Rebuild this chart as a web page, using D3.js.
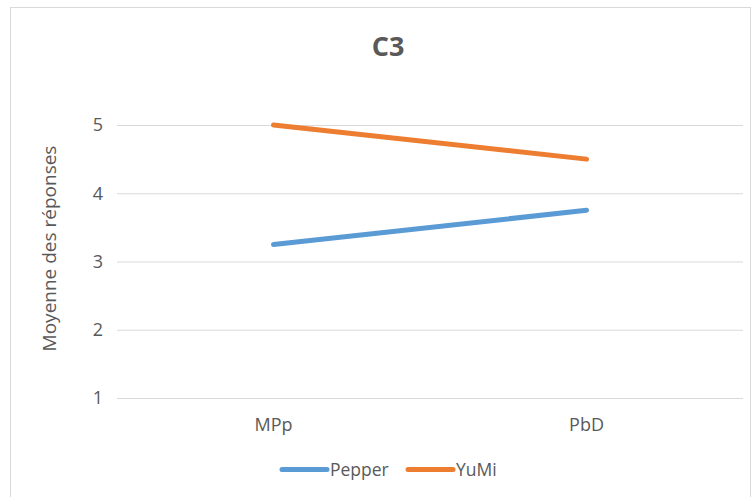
<!DOCTYPE html>
<html>
<head>
<meta charset="utf-8">
<script src="https://cdn.jsdelivr.net/npm/d3@7"></script>
<style>
  html, body { margin: 0; padding: 0; background: #fff; }
  svg { display: block; }
  text { font-family: "Open Sans", "Liberation Sans", sans-serif; fill: #595959; }
</style>
</head>
<body>
<svg id="chart" width="753" height="497"></svg>
<script>
const categories = ["MPp", "PbD"];
const seriesNames = ["Pepper", "YuMi"];
const pepperValues = [3.25, 3.75];
const yumiValues = [5.0, 4.5];
const yTicks = [1, 2, 3, 4, 5];
const colors = ["#5B9BD5", "#ED7D31"];
const title = "C3";
const yLabel = "Moyenne des réponses";

const series = [
  { name: seriesNames[0], values: pepperValues, color: colors[0] },
  { name: seriesNames[1], values: yumiValues, color: colors[1] }
];

const svg = d3.select("#chart");

svg.append("rect")
  .attr("x", 10.5).attr("y", 7.5)
  .attr("width", 740).attr("height", 520)
  .attr("fill", "none").attr("stroke", "#d9d9d9").attr("stroke-width", 1);

const plotLeft = 117, plotRight = 743, plotTop = 125, plotBottom = 398;

const x = d3.scaleBand().domain(categories).range([plotLeft, plotRight]).padding(0);
const y = d3.scaleLinear().domain([1, 5]).range([plotBottom, plotTop]);

svg.append("g")
  .attr("transform", `translate(${plotLeft},0)`)
  .call(d3.axisLeft(y).tickValues(yTicks).tickSize(-(plotRight - plotLeft)).tickFormat(""))
  .call(g => g.select(".domain").remove())
  .call(g => g.selectAll(".tick line").attr("stroke", "#d9d9d9").attr("stroke-width", 1));

svg.append("g")
  .attr("transform", `translate(${plotLeft - 14},0)`)
  .call(d3.axisLeft(y).tickValues(yTicks).tickSize(0).tickPadding(0).tickFormat(d3.format("d")))
  .call(g => g.select(".domain").remove())
  .call(g => g.selectAll("text").style("font-size", "18px").attr("fill", "#595959"));

svg.append("g")
  .attr("transform", `translate(0,${plotBottom})`)
  .call(d3.axisBottom(x).tickSize(0).tickPadding(20))
  .call(g => g.select(".domain").remove())
  .call(g => g.selectAll("text").style("font-size", "18px").attr("fill", "#595959"));

const line = d3.line()
  .x((d, i) => x(categories[i]) + x.bandwidth() / 2)
  .y(d => y(d));

svg.append("g").selectAll("path")
  .data(series)
  .join("path")
  .attr("d", d => line(d.values))
  .attr("fill", "none")
  .attr("stroke", d => d.color)
  .attr("stroke-width", 5)
  .attr("stroke-linecap", "round");

svg.append("text")
  .attr("x", 388).attr("y", 56)
  .attr("text-anchor", "middle")
  .style("font-size", "27px").style("font-weight", "bold")
  .attr("fill", "#595959")
  .text(title);

svg.append("text")
  .attr("transform", `translate(56,${(plotTop + plotBottom) / 2 - 13}) rotate(-90)`)
  .attr("text-anchor", "middle")
  .style("font-size", "19px")
  .text(yLabel);

const legendItems = [
  { x: 282, s: series[0] },
  { x: 408, s: series[1] }
];
const lg = svg.append("g");
legendItems.forEach(it => {
  lg.append("line")
    .attr("x1", it.x).attr("x2", it.x + 45)
    .attr("y1", 469.5).attr("y2", 469.5)
    .attr("stroke", it.s.color).attr("stroke-width", 5)
    .attr("stroke-linecap", "round");
  lg.append("text")
    .attr("x", it.x + 48).attr("y", 476)
    .style("font-size", "17.5px")
    .text(it.s.name);
});
</script>
</body>
</html>
